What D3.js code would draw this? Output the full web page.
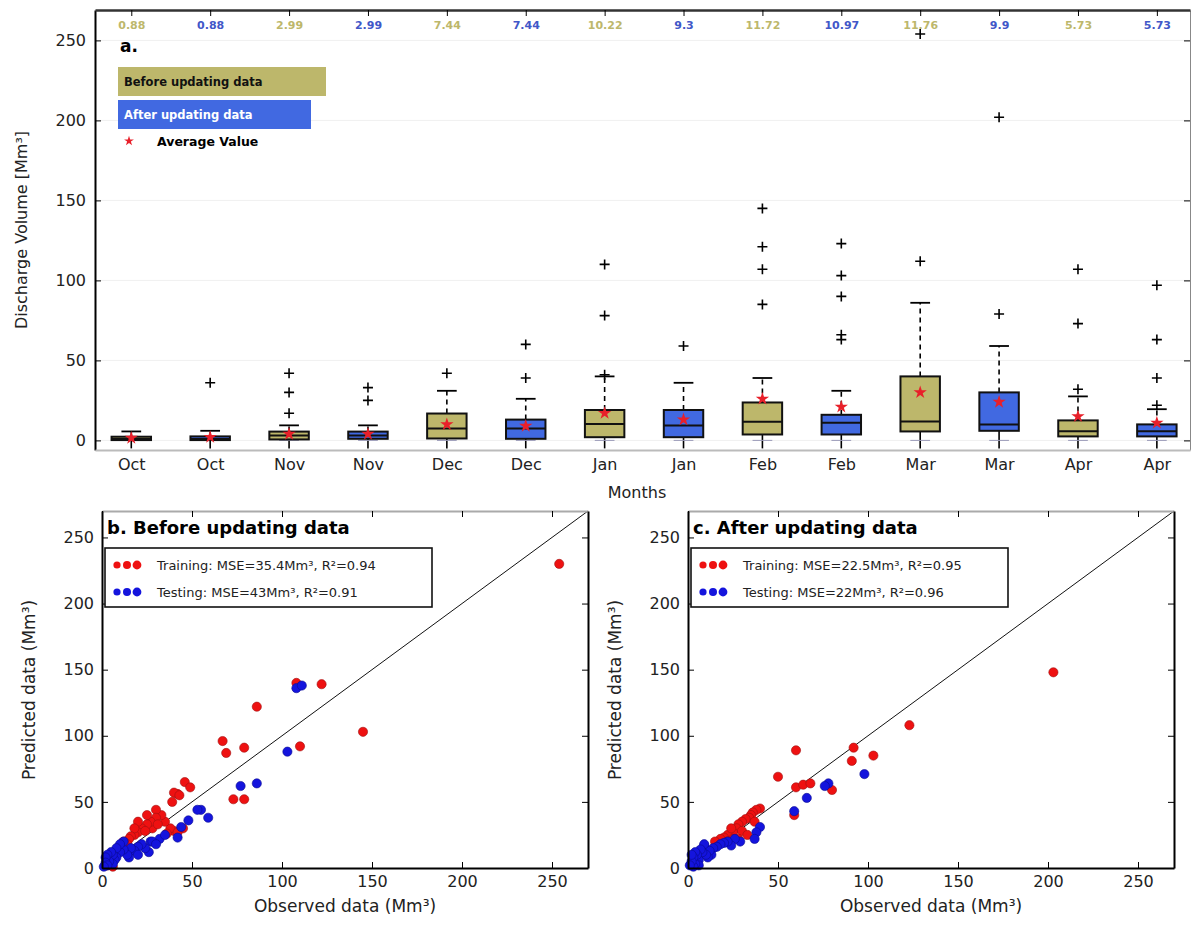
<!DOCTYPE html>
<html>
<head>
<meta charset="utf-8">
<script src="https://cdn.jsdelivr.net/npm/d3@7"></script>
<style>
  body { margin: 0; background: #fff; }
  text { font-family: "DejaVu Sans", sans-serif; }
</style>
</head>
<body>
<script>
// months / groups for the box plot (before, after alternating)
const months = ['Oct', 'Oct', 'Nov', 'Nov', 'Dec', 'Dec', 'Jan', 'Jan', 'Feb', 'Feb', 'Mar', 'Mar', 'Apr', 'Apr'];
const groups = ['before', 'after', 'before', 'after', 'before', 'after', 'before', 'after', 'before', 'after', 'before', 'after', 'before', 'after'];
const medians = [0.88, 0.88, 2.99, 2.99, 7.44, 7.44, 10.22, 9.3, 11.72, 10.97, 11.76, 9.9, 5.73, 5.73];
const q1 = [0.2, 0.2, 0.6, 1, 1.2, 1, 2, 2, 3.7, 3.7, 5.6, 6, 2.5, 2.5];
const q3 = [2.3, 2.5, 5.5, 5.5, 16.8, 13, 19, 19, 23.7, 16, 40, 30, 12.5, 10];
const whiskLow = [0, 0, 0, 0, 0, 0, 0, 0, 0, 0, 0, 0, 0, 0];
const whiskHigh = [5.6, 6, 9.4, 9.4, 31, 26, 40, 36, 39, 31, 86, 59, 27.5, 19.5];
const means = [1.5, 2, 4, 4, 10, 9, 17, 13, 26, 21, 30, 24, 15, 11];
const fliers = [[], [36], [17, 30, 42], [25, 33], [42], [39, 60], [41, 78, 110], [59],
  [85, 107, 121, 145], [63, 66, 90, 103, 123], [112, 254], [79, 202], [32, 73, 107], [22, 39, 63, 97]];
const yTicksA = [0, 50, 100, 150, 200, 250];

// scatter data: [observed, predicted]
const trainB = [[254, 230], [108, 140], [122, 139], [86, 122], [145, 103], [110, 92], [67, 96], [69, 87], [79, 91],
  [73, 52], [79, 52], [46, 65], [49, 61], [42, 56], [40, 57], [43, 55], [39, 50], [45, 30], [40, 28], [38, 30],
  [35, 35], [33, 40], [30, 44], [30, 38], [28, 30], [27, 35], [25, 40], [25, 33], [22, 30], [20, 35], [20, 27],
  [18, 25], [18, 30], [16, 24], [15, 22], [14, 18], [12, 20], [10, 15], [8, 10], [6, 8], [5, 5], [3, 2], [6, 1],
  [42, 27], [36, 26], [31, 33], [24, 28]];
const testB = [[108, 136], [111, 138], [103, 88], [86, 64], [77, 62], [55, 44], [53, 44], [59, 38], [48, 36],
  [44, 31], [42, 23], [32, 22], [27, 20], [28, 20], [26, 12], [24, 15], [22, 18], [20, 16], [18, 13], [16, 15],
  [15, 8], [14, 10], [12, 14], [12, 20], [10, 12], [10, 18], [8, 8], [8, 15], [7, 6], [6, 3], [6, 10], [5, 12],
  [4, 5], [3, 10], [2, 8], [2, 4], [3, 2], [1, 1], [20, 10], [30, 18], [35, 25]];
const trainC = [[203, 148], [123, 108], [92, 91], [91, 81], [103, 85], [60, 89], [50, 69], [60, 61], [64, 63],
  [68, 64], [80, 59], [59, 40], [40, 45], [38, 44], [36, 42], [35, 40], [34, 38], [32, 37], [30, 35], [28, 33],
  [27, 30], [25, 27], [22, 25], [20, 23], [18, 22], [15, 20], [30, 28], [25, 22], [33, 25], [28, 22], [24, 30],
  [22, 20], [37, 35]];
const testC = [[98, 71], [78, 64], [76, 62], [66, 53], [59, 43], [40, 31], [38, 27], [37, 22], [29, 20], [9, 17],
  [26, 22], [24, 17], [22, 20], [20, 19], [18, 18], [16, 16], [14, 15], [13, 10], [12, 13], [11, 8], [10, 10],
  [9, 18], [8, 12], [7, 14], [6, 6], [6, 2], [5, 10], [4, 12], [4, 3], [3, 8], [3, 1], [2, 5], [2, 10], [1, 2]];
const scatTicks = [0, 50, 100, 150, 200, 250];

const boxColor = { before: '#BDB76B', after: '#4169E1' };
const labelColor = { before: '#bdb76b', after: '#4157c8' };

const svg = d3.select('body').append('svg').attr('width', 1195).attr('height', 928);

// ---------- panel a: box plot ----------
const xA = d3.scaleLinear().domain([0.54, 14.42]).range([95, 1190]);
const yA = d3.scaleLinear().domain([-6, 269]).range([450, 10]);
const boxW = 0.25;

const gA = svg.append('g');

// faint grid
gA.selectAll('.grid').data(yTicksA).enter().append('line')
  .attr('x1', xA.range()[0]).attr('x2', xA.range()[1])
  .attr('y1', d => yA(d)).attr('y2', d => yA(d))
  .attr('stroke', '#f0f0f0');

const idx = d3.range(14);
const boxes = gA.selectAll('.box').data(idx).enter().append('g').attr('class', 'box');

// whiskers (dashed)
boxes.append('line')
  .attr('x1', i => xA(i + 1)).attr('x2', i => xA(i + 1))
  .attr('y1', i => yA(q3[i])).attr('y2', i => yA(whiskHigh[i]))
  .attr('stroke', '#000').attr('stroke-width', 1.6).attr('stroke-dasharray', '5,4');
boxes.append('line')
  .attr('x1', i => xA(i + 1)).attr('x2', i => xA(i + 1))
  .attr('y1', i => yA(q1[i])).attr('y2', i => yA(whiskLow[i]) + 8)
  .attr('stroke', '#000').attr('stroke-width', 1.6);
// caps
boxes.append('line')
  .attr('x1', i => xA(i + 1 - boxW * 0.5)).attr('x2', i => xA(i + 1 + boxW * 0.5))
  .attr('y1', i => yA(whiskHigh[i])).attr('y2', i => yA(whiskHigh[i]))
  .attr('stroke', '#000').attr('stroke-width', 1.8);
boxes.append('line')
  .attr('x1', i => xA(i + 1 - boxW * 0.5)).attr('x2', i => xA(i + 1 + boxW * 0.5))
  .attr('y1', i => yA(whiskLow[i])).attr('y2', i => yA(whiskLow[i]))
  .attr('stroke', '#9a9ab8').attr('stroke-width', 1);
// box
boxes.append('rect')
  .attr('x', i => xA(i + 1 - boxW)).attr('width', i => xA(i + 1 + boxW) - xA(i + 1 - boxW))
  .attr('y', i => yA(q3[i])).attr('height', i => yA(q1[i]) - yA(q3[i]))
  .attr('fill', i => boxColor[groups[i]]).attr('stroke', '#111').attr('stroke-width', 2);
// median
boxes.append('line')
  .attr('x1', i => xA(i + 1 - boxW)).attr('x2', i => xA(i + 1 + boxW))
  .attr('y1', i => yA(medians[i])).attr('y2', i => yA(medians[i]))
  .attr('stroke', '#111').attr('stroke-width', 2);
// fliers
boxes.each(function (i) {
  d3.select(this).selectAll('.flier').data(fliers[i]).enter().append('path')
    .attr('class', 'flier')
    .attr('d', d => {
      const cx = xA(i + 1), cy = yA(d);
      return `M${cx - 5},${cy}H${cx + 5}M${cx},${cy - 5}V${cy + 5}`;
    })
    .attr('stroke', '#000').attr('stroke-width', 1.6);
});
// means
boxes.append('path')
  .attr('d', d3.symbol(d3.symbolStar).size(55))
  .attr('transform', i => `translate(${xA(i + 1)},${yA(means[i])})`)
  .attr('fill', '#e8202a');

// axes
const axLeftA = d3.axisLeft(yA).tickValues(yTicksA).tickSizeInner(-6).tickSizeOuter(0).tickPadding(9);
gA.append('g').attr('transform', `translate(${xA.range()[0]},0)`).call(axLeftA)
  .call(g => g.selectAll('text').attr('font-size', 16).attr('fill', '#222'))
  .call(g => g.select('.domain').attr('stroke-width', 2));
const axRightA = d3.axisRight(yA).tickValues(yTicksA).tickSizeInner(-6).tickSizeOuter(0).tickFormat('');
gA.append('g').attr('transform', `translate(${xA.range()[1]},0)`).call(axRightA)
  .call(g => g.select('.domain').attr('stroke', '#888'));
const axBottomA = d3.axisBottom(xA).tickValues(idx.map(i => i + 1)).tickFormat(d => months[d - 1])
  .tickSize(0).tickPadding(9);
gA.append('g').attr('transform', `translate(0,${yA.range()[0]})`).call(axBottomA)
  .call(g => g.selectAll('text').attr('font-size', 16).attr('fill', '#222'))
  .call(g => g.select('.domain').attr('stroke', '#bbb').attr('stroke-width', 2));
const axTopA = d3.axisTop(xA).tickValues(idx.map(i => i + 1)).tickFormat(d => medians[d - 1])
  .tickSizeInner(-6).tickSizeOuter(0).tickPadding(-19);
gA.append('g').attr('transform', `translate(0,${yA.range()[1]})`).call(axTopA)
  .call(g => g.selectAll('text').attr('font-size', 11).attr('font-weight', 'bold')
    .attr('fill', d => labelColor[groups[d - 1]]))
  .call(g => g.select('.domain').attr('stroke', '#333').attr('stroke-width', 2.5));

gA.append('text').attr('x', 120).attr('y', 52).attr('font-size', 17).attr('font-weight', 'bold').text('a.');

// legend for panel a
const legA = [
  { label: 'Before updating data', fill: boxColor.before, color: '#111', w: 208 },
  { label: 'After updating data', fill: boxColor.after, color: '#fff', w: 193 }
];
const legAG = gA.selectAll('.legA').data(legA).enter().append('g')
  .attr('transform', (d, i) => `translate(118,${67 + i * 33})`);
legAG.append('rect').attr('width', d => d.w).attr('height', 29).attr('fill', d => d.fill);
legAG.append('text').attr('x', 6).attr('y', 19).attr('font-size', 11.5).attr('font-weight', 'bold')
  .attr('fill', d => d.color).text(d => d.label);
gA.append('path').attr('d', d3.symbol(d3.symbolStar).size(30))
  .attr('transform', 'translate(129,141)').attr('fill', '#e8202a');
gA.append('text').attr('x', 157).attr('y', 146).attr('font-size', 12.5).attr('font-weight', 'bold')
  .text('Average Value');

gA.append('text').attr('transform', 'translate(27,230) rotate(-90)').attr('text-anchor', 'middle')
  .attr('font-size', 16).attr('fill', '#222').text('Discharge Volume [Mm³]');
gA.append('text').attr('x', 637).attr('y', 498).attr('text-anchor', 'middle')
  .attr('font-size', 16).attr('fill', '#222').text('Months');

// ---------- panels b and c: scatter ----------
function scatterPanel(opts) {
  const x = d3.scaleLinear().domain([0, 270]).range([opts.left, opts.left + 486]);
  const y = d3.scaleLinear().domain([0, 270]).range([868, 511]);
  const g = svg.append('g');

  g.append('line').attr('x1', x(0)).attr('y1', y(0)).attr('x2', x(270)).attr('y2', y(270))
    .attr('stroke', '#111').attr('stroke-width', 1);

  g.selectAll('.tr').data(opts.train).enter().append('circle')
    .attr('cx', d => x(d[0])).attr('cy', d => y(d[1])).attr('r', 4.6)
    .attr('fill', '#ee1111').attr('stroke', '#a01010').attr('stroke-width', 0.6);
  g.selectAll('.te').data(opts.test).enter().append('circle')
    .attr('cx', d => x(d[0])).attr('cy', d => y(d[1])).attr('r', 4.6)
    .attr('fill', '#1414dd').attr('stroke', '#0a0a90').attr('stroke-width', 0.6);

  g.append('g').attr('transform', `translate(0,${y(0)})`)
    .call(d3.axisBottom(x).tickValues(scatTicks).tickSizeInner(-6).tickSizeOuter(0).tickPadding(8))
    .call(s => s.selectAll('text').attr('font-size', 16).attr('fill', '#222'))
    .call(s => s.select('.domain').attr('stroke-width', 2));
  g.append('g').attr('transform', `translate(0,${y(270)})`)
    .call(d3.axisTop(x).tickValues(scatTicks).tickSizeInner(-6).tickSizeOuter(0).tickFormat(''))
    .call(s => s.select('.domain').attr('stroke', '#aaa').attr('stroke-width', 2));
  g.append('g').attr('transform', `translate(${x(0)},0)`)
    .call(d3.axisLeft(y).tickValues(scatTicks).tickSizeInner(-6).tickSizeOuter(0).tickPadding(8))
    .call(s => s.selectAll('text').attr('font-size', 16).attr('fill', '#222'))
    .call(s => s.select('.domain').attr('stroke-width', 2));
  g.append('g').attr('transform', `translate(${x(270)},0)`)
    .call(d3.axisRight(y).tickValues(scatTicks).tickSizeInner(-6).tickSizeOuter(0).tickFormat(''))
    .call(s => s.select('.domain').attr('stroke-width', 2));

  g.append('text').attr('x', x(0) + 5).attr('y', 534).attr('font-size', 18).attr('font-weight', 'bold')
    .text(opts.title);

  // legend
  const lg = g.append('g').attr('transform', `translate(${x(0) + 3},548)`);
  lg.append('rect').attr('width', opts.legW).attr('height', 59).attr('fill', '#fff')
    .attr('stroke', '#111').attr('stroke-width', 1.6);
  const rows = [
    { label: opts.trainLabel, fill: '#ee1111' },
    { label: opts.testLabel, fill: '#1414dd' }
  ];
  const rg = lg.selectAll('.row').data(rows).enter().append('g')
    .attr('transform', (d, i) => `translate(0,${17 + i * 27})`);
  [0, 1, 2].forEach(k => {
    rg.append('circle').attr('cx', 12 + k * 10).attr('cy', 0).attr('r', 3.6 + k * 0.4)
      .attr('fill', d => d.fill);
  });
  rg.append('text').attr('x', 52).attr('y', 5).attr('font-size', 13).attr('fill', '#222').text(d => d.label);

  g.append('text').attr('transform', `translate(${opts.left - 67},690) rotate(-90)`)
    .attr('text-anchor', 'middle').attr('font-size', 17).attr('fill', '#222').text('Predicted data (Mm³)');
  g.append('text').attr('x', opts.left + 243).attr('y', 912).attr('text-anchor', 'middle')
    .attr('font-size', 17).attr('fill', '#222').text('Observed data (Mm³)');
}

scatterPanel({
  left: 102, train: trainB, test: testB, title: 'b. Before updating data', legW: 327,
  trainLabel: 'Training: MSE=35.4Mm³, R²=0.94', testLabel: 'Testing: MSE=43Mm³, R²=0.91'
});
scatterPanel({
  left: 688, train: trainC, test: testC, title: 'c. After updating data', legW: 317,
  trainLabel: 'Training: MSE=22.5Mm³, R²=0.95', testLabel: 'Testing: MSE=22Mm³, R²=0.96'
});
</script>
</body>
</html>
